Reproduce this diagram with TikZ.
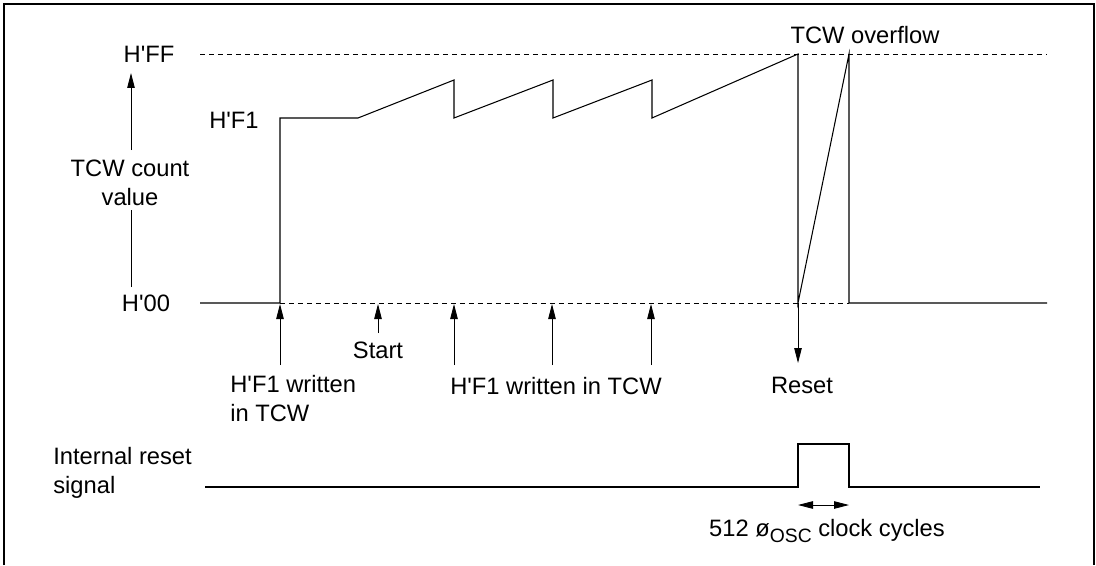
\documentclass[tikz,border=0pt]{standalone}
\usepackage{fontspec}
\setmainfont{Liberation Sans}
\usetikzlibrary{arrows.meta,positioning}
\newcommand\tick{\textquotesingle}

\begin{document}
\begin{tikzpicture}[
  x=0.02cm,y=-0.02cm,
  lbl/.style={font=\fontsize{13.5}{16.5}\selectfont,inner sep=0pt,align=left},
  wave/.style={line width=0.6pt,line join=miter},
  guide/.style={line width=0.5pt,dash pattern=on 1mm off 0.8mm},
  a/.style={-{Triangle[length=3mm,width=1.5mm]},line width=0.5pt},
  aa/.style={{Triangle[length=3mm,width=1.5mm]}-{Triangle[length=3mm,width=1.5mm]},line width=0.5pt}
]
\useasboundingbox (0,0) rectangle (1096,565);
\draw[line width=0.7pt] (4,565) -- (4,4) -- (1094,4) -- (1094,565);

% level labels
\node[lbl] (ff) at (149,54) {H\tick FF};
\node[lbl] (zero) at (146,303) {H\tick 00};
\node[lbl] (f1) at (234,120) {H\tick F1};
\node[lbl,align=center] (count) at (130,183) {TCW count\\value};
\node[lbl] (ovf) at (865,35) {TCW overflow};

% axis
\coordinate (axlo) at (131,287);
\coordinate (axhi) at (131,73);
\draw[line width=0.5pt] (axlo) -- (131,210);
\draw[a] (131,150) -- (axhi);

% guide lines
\draw[guide] (200,54) -- (1047,54);
\draw[guide] (280,303) -- (849,303);

% count value
\draw[wave] (200,303) -- (280,303) -- (280,118) -- (358,118)
  -- (454,80) -- (454,118) -- (553,80) -- (553,118)
  -- (652,80) -- (652,118) -- (798,54) coordinate (top1)
  -- (798,303) coordinate (rst) -- (849,54) -- (849,303) -- (1047,303);

% write events
\node[lbl] (w1) at (230,399) [anchor=west] {H\tick F1 written\\in TCW};
\node[lbl] (start) at (378,350) {Start};
\node[lbl] (wn) at (556,386) {H\tick F1 written in TCW};
\node[lbl] (reset) at (802,385) {Reset};

\draw[a] (280,365) -- (280,304);
\draw[a] (378,333) -- (378,304);
\foreach \x in {454,552,651}
  \draw[a] (\x,365) -- (\x,304);
\draw[a] (rst) -- (798,363);

% internal reset
\node[lbl] (irs) at (53,473) [anchor=west] {Internal reset\\signal};
\draw[wave] (205,487) -- (798,487) -- (798,444) -- (849,444) -- (849,487) -- (1040,487);
\coordinate (pl) at (798,505);
\coordinate (pr) at (849,505);
\draw[aa] (pl) -- (pr);
\node[lbl] (clk) at (827,531) {512 ø\raisebox{-0.45ex}{\fontsize{11}{11}\selectfont OSC} clock cycles};
\end{tikzpicture}
\end{document}
